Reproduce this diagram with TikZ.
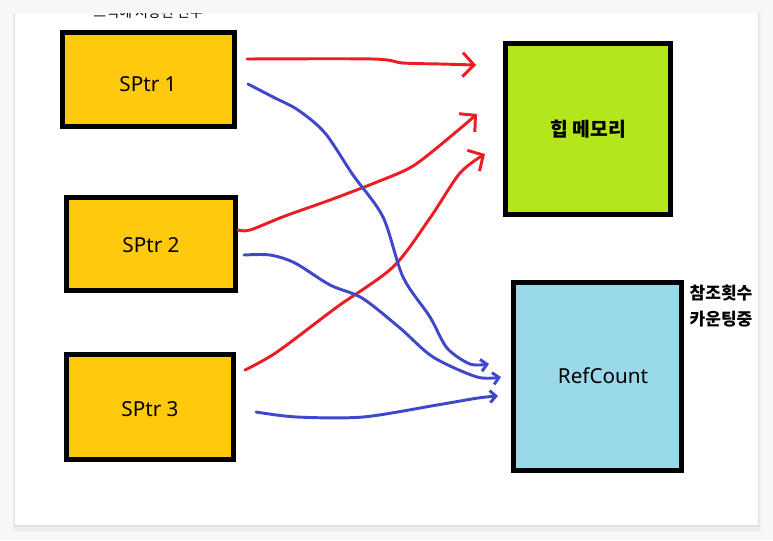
\documentclass[tikz,border=0pt]{standalone}
\usepackage{fontspec}
\setmainfont{Noto Sans}
\newfontfamily\kor{Noto Sans CJK KR}
\usetikzlibrary{arrows.meta}
\usetikzlibrary{positioning}

\definecolor{ptryellow}{HTML}{FFC90E}
\definecolor{heapgreen}{HTML}{B5E61D}
\definecolor{refblue}{HTML}{99D9EA}
\definecolor{penred}{HTML}{ED1C24}
\definecolor{penblue}{HTML}{3F48CC}

\tikzset{
  memblock/.style={draw=black, line width=3.75pt, inner sep=0pt},
  ptrblock/.style={memblock, fill=ptryellow, font=\fontsize{15.5}{18}\selectfont},
  redpen/.style={draw=penred, line width=2.2pt, line cap=round, line join=round,
    -{Straight Barb[length=8.5pt,width=18pt]}},
  bluepen/.style={draw=penblue, line width=2.2pt, line cap=round, line join=round,
    -{Straight Barb[length=4.5pt,width=9pt]}}
}

\begin{document}
\begin{tikzpicture}[x=0.75pt,y=-0.75pt]
\useasboundingbox (0,0) rectangle (773,540);
% canvas
\fill[black!3] (0,0) rectangle (773,540);
\fill[black!7] (13,13) rectangle (761,531);
\fill[black!12] (14,13) rectangle (759,527);
\fill[white] (15,13) rectangle (758,525);

\begin{scope}
\clip (15,13) rectangle (758,525);
\node[font=\kor\fontsize{10.5}{12}\selectfont] (stacknote) at (148,12) {스택에 저장된 변수};
\end{scope}

% blocks
\node[ptrblock, minimum width=129pt, minimum height=70.5pt, text height=18.5pt] (sp1) at (148,79) {SPtr 1};
\node[ptrblock, minimum width=127pt, minimum height=69.5pt, text height=13pt] (sp2) at (151,244) {SPtr 2};
\node[ptrblock, minimum width=125.5pt, minimum height=79pt, text height=15pt] (sp3) at (150,407) {SPtr 3};
\node[memblock, fill=heapgreen, minimum width=124pt, minimum height=128pt,
  font=\kor\bfseries\fontsize{14.5}{17}\selectfont] (heap) at (588,129) {힙 메모리};
\node[memblock, fill=refblue, minimum width=126pt, minimum height=141pt,
  font=\fontsize{15.5}{18}\selectfont] (ref) at (597,376) {\hspace*{9pt}RefCount};
\node[font=\kor\bfseries\fontsize{12.8}{20}\selectfont, align=center, inner sep=0pt]
  (countnote) at (721,306) {참조횟수\\카운팅중};

% pointer ends
\coordinate (r1s) at (247,59);  \coordinate (r1e) at (476,65);
\coordinate (r2s) at (238,230); \coordinate (r2e) at (477,114);
\coordinate (r3s) at (245,370); \coordinate (r3e) at (485,154);
\coordinate (b1s) at (248,84);  \coordinate (b1e) at (489,364);
\coordinate (b2s) at (244,255); \coordinate (b2e) at (501,377);
\coordinate (b3s) at (256,412); \coordinate (b3e) at (498,396);

% to heap
\draw[redpen] plot[smooth] coordinates {(r1s) (373,59) (403,63) (440,64) (r1e)};
\draw[redpen] plot[smooth] coordinates {(r2s) (250,230) (285,216) (330,200) (377,182) (413,166) (450,137) (r2e)};
\draw[redpen] plot[smooth] coordinates {(r3s) (277,352) (337,307) (393,267) (430,218) (460,173) (r3e)};
% to refcount
\draw[bluepen] plot[smooth] coordinates {(b1s) (273,97) (298,110) (325,133) (353,175) (383,217) (403,277) (430,317) (447,348) (470,364) (b1e)};
\draw[bluepen] plot[smooth] coordinates {(b2s) (270,255) (295,263) (330,285) (362,298) (400,328) (433,357) (477,377) (b2e)};
\draw[bluepen] plot[smooth] coordinates {(b3s) (297,417) (363,417) (437,405) (478,398) (b3e)};
\end{tikzpicture}
\end{document}
